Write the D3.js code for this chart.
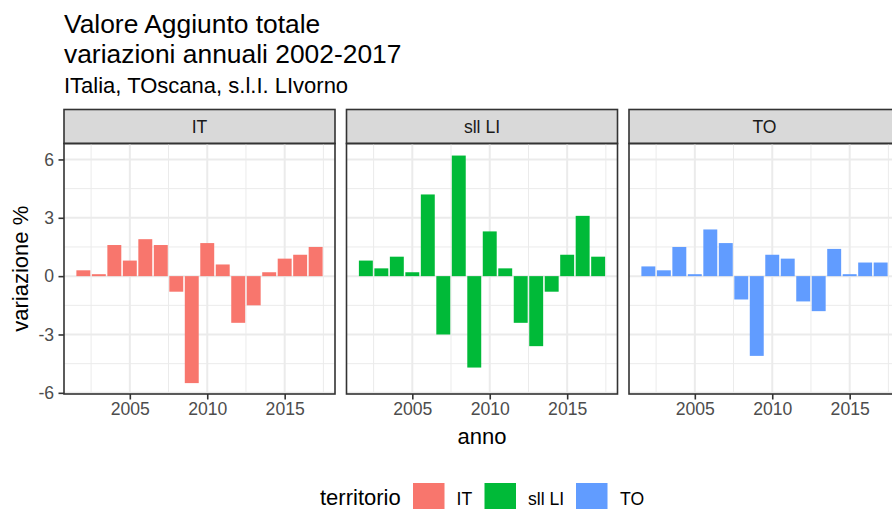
<!DOCTYPE html>
<html>
<head>
<meta charset="utf-8">
<script src="https://cdn.jsdelivr.net/npm/d3@7"></script>
<style>
  body { margin: 0; background: #fff; overflow: hidden; }
  svg { font-family: "Liberation Sans", Arial, sans-serif; }
</style>
</head>
<body>
<div id="chart"></div>
<script>
// data
const years = [2002, 2003, 2004, 2005, 2006, 2007, 2008, 2009, 2010, 2011, 2012, 2013, 2014, 2015, 2016, 2017];
const territori = ["IT", "sll LI", "TO"];
const colori = ["#F8766D", "#00BA38", "#619CFF"];
const valIT = [0.3, 0.1, 1.6, 0.8, 1.9, 1.6, -0.8, -5.5, 1.7, 0.6, -2.4, -1.5, 0.2, 0.9, 1.1, 1.5];
const valLI = [0.8, 0.4, 1.0, 0.2, 4.2, -3.0, 6.2, -4.7, 2.3, 0.4, -2.4, -3.6, -0.8, 1.1, 3.1, 1.0];
const valTO = [0.5, 0.3, 1.5, 0.1, 2.4, 1.7, -1.2, -4.1, 1.1, 0.9, -1.3, -1.8, 1.4, 0.1, 0.7, 0.7];
const xTicks = [2005, 2010, 2015];
const xMinor = [2002.5, 2007.5, 2012.5, 2017.5];
const yTicks = [-6, -3, 0, 3, 6];
const yMinor = [-4.5, -1.5, 1.5, 4.5];

const width = 892, height = 509;
const panelLeft = 64, panelW = 271, panelGap = 11.5;
const stripTop = 109.5, stripH = 34;
const plotTop = stripTop + stripH, plotH = 250.5;
const base = 22;

const series = [valIT, valLI, valTO];

const svg = d3.select("#chart").append("svg")
  .attr("width", width).attr("height", height);

const x = d3.scaleLinear().domain([2000.75, 2018.25]).range([0, panelW]);
const y = d3.scaleLinear().domain([-6.06, 6.82]).range([plotH, 0]);
const barW = x(2000.75 + 0.9) - x(2000.75);

// titles
svg.append("text").attr("x", 64).attr("y", 33).attr("font-size", base * 1.2).attr("fill", "#000")
  .text("Valore Aggiunto totale");
svg.append("text").attr("x", 64).attr("y", 63).attr("font-size", base * 1.2).attr("fill", "#000")
  .text("variazioni annuali 2002-2017");
svg.append("text").attr("x", 64).attr("y", 93).attr("font-size", base).attr("fill", "#000")
  .text("ITalia, TOscana, s.l.I. LIvorno");

territori.forEach(function (t, i) {
  const g = svg.append("g")
    .attr("transform", `translate(${panelLeft + i * (panelW + panelGap)}, 0)`);

  // strip
  g.append("rect").attr("x", 0).attr("y", stripTop).attr("width", panelW).attr("height", stripH)
    .attr("fill", "#d9d9d9").attr("stroke", "#333").attr("stroke-width", 1.6);
  g.append("text").attr("x", panelW / 2).attr("y", stripTop + stripH / 2 + 6.3)
    .attr("text-anchor", "middle").attr("font-size", base * 0.8).attr("fill", "#1a1a1a").text(t);

  const p = g.append("g").attr("transform", `translate(0, ${plotTop})`);

  // grid
  p.selectAll(".ymin").data(yMinor).join("line")
    .attr("x1", 0).attr("x2", panelW).attr("y1", d => y(d)).attr("y2", d => y(d))
    .attr("stroke", "#ebebeb").attr("stroke-width", 1);
  p.selectAll(".xmin").data(xMinor).join("line")
    .attr("y1", 0).attr("y2", plotH).attr("x1", d => x(d)).attr("x2", d => x(d))
    .attr("stroke", "#ebebeb").attr("stroke-width", 1);
  p.selectAll(".ymaj").data(yTicks).join("line")
    .attr("x1", 0).attr("x2", panelW).attr("y1", d => y(d)).attr("y2", d => y(d))
    .attr("stroke", "#ebebeb").attr("stroke-width", 2);
  p.selectAll(".xmaj").data(xTicks).join("line")
    .attr("y1", 0).attr("y2", plotH).attr("x1", d => x(d)).attr("x2", d => x(d))
    .attr("stroke", "#ebebeb").attr("stroke-width", 2);

  // bars
  p.selectAll(".bar").data(years.map((yr, k) => ({ yr: yr, v: series[i][k] }))).join("rect")
    .attr("x", d => x(d.yr) - barW / 2)
    .attr("width", barW)
    .attr("y", d => y(Math.max(0, d.v)))
    .attr("height", d => Math.abs(y(d.v) - y(0)))
    .attr("fill", colori[i]);

  // panel border
  p.append("rect").attr("x", 0).attr("y", 0).attr("width", panelW).attr("height", plotH)
    .attr("fill", "none").attr("stroke", "#333").attr("stroke-width", 1.6);

  // x axis
  const xAxis = p.append("g").attr("transform", `translate(0, ${plotH})`)
    .call(d3.axisBottom(x).tickValues(xTicks).tickFormat(d => String(d)).tickSize(5.5).tickPadding(3));
  xAxis.select(".domain").remove();
  xAxis.selectAll("line").attr("stroke", "#333").attr("stroke-width", 1.6);
  xAxis.selectAll("text").attr("font-size", base * 0.8).attr("fill", "#4d4d4d")
    .attr("font-family", "Liberation Sans, Arial, sans-serif");

  if (i === 0) {
    const yAxis = p.append("g")
      .call(d3.axisLeft(y).tickValues(yTicks).tickFormat(d => String(d)).tickSize(5.5).tickPadding(4.4));
    yAxis.select(".domain").remove();
    yAxis.selectAll("line").attr("stroke", "#333").attr("stroke-width", 1.6);
    yAxis.selectAll("text").attr("font-size", base * 0.8).attr("fill", "#4d4d4d")
      .attr("font-family", "Liberation Sans, Arial, sans-serif");
  }
});

// axis titles
svg.append("text").attr("x", 482).attr("y", 444).attr("text-anchor", "middle")
  .attr("font-size", base).attr("fill", "#000").text("anno");
svg.append("text").attr("transform", `translate(28, ${plotTop + plotH / 2}) rotate(-90)`)
  .attr("text-anchor", "middle").attr("font-size", base).attr("fill", "#000").text("variazione %");

// legend
const legend = svg.append("g");
legend.append("text").attr("x", 320).attr("y", 505).attr("font-size", base).attr("fill", "#000").text("territorio");
const keyX = [413, 484.5, 576];
const labX = [456.5, 528, 620];
territori.forEach(function (t, i) {
  legend.append("rect").attr("x", keyX[i]).attr("y", 483).attr("width", 31.5).attr("height", 34)
    .attr("fill", colori[i]);
  legend.append("text").attr("x", labX[i]).attr("y", 505).attr("font-size", base * 0.8).attr("fill", "#000").text(t);
});
</script>
</body>
</html>
